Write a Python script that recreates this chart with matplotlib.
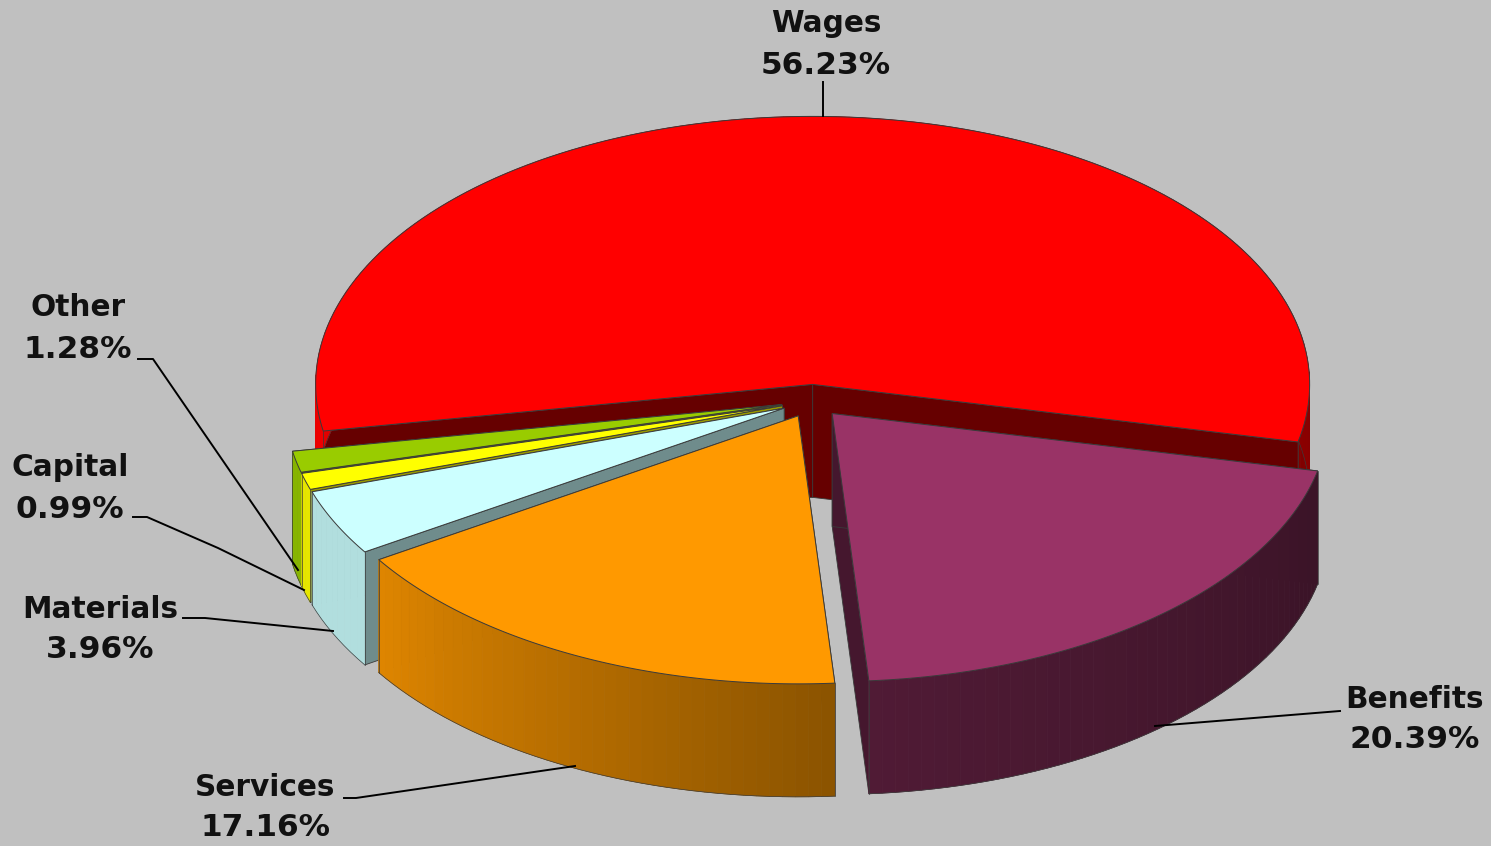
#!/usr/bin/env python3
"""Exploded 3D-look pie of spending shares, drawn by hand on a pixel-sized axes."""

import matplotlib
matplotlib.use("Agg")
import matplotlib.pyplot as plt
import numpy as np

categories = ["Wages", "Other", "Capital", "Materials", "Services", "Benefits"]
shares = [56.23, 1.28, 0.99, 3.96, 17.16, 20.39]

top_colors = ["#FF0000", "#99CC00", "#FFFF00", "#CCFFFF", "#FF9900", "#993366"]
cut_colors = ["#660000", "#5C7A00", "#999900", "#6F8C8C", "#995C00", "#45172E"]
# wall brightness at the start and end angle of each wedge
wall_shades = [(0.50, 0.94), (0.88, 0.88), (0.90, 0.90), (0.87, 0.87), (0.87, 0.54), (0.52, 0.38)]

START_DEG = -12.4
CX, CY = 812, 401
RX, RY = 497, 268
DEPTH = 113
EXPLODE = 0.062
EDGE = "#3A3A3A"

# centre of the name line, the value line sits 41 px under it
label_pos = {
    "Wages": (826, 24),
    "Other": (78, 308),
    "Capital": (70, 468),
    "Materials": (100, 609),
    "Services": (265, 787),
    "Benefits": (1415, 699),
}
leaders = {
    "Wages": [(823, 82), (823, 116)],
    "Other": [(138, 359), (153, 359), (298, 570)],
    "Capital": [(133, 517), (147, 517), (218, 548), (304, 590)],
    "Materials": [(183, 618), (205, 618), (333, 631)],
    "Services": [(344, 798), (356, 798), (575, 766)],
    "Benefits": [(1340, 711), (1155, 726)],
}


def rim(apex, deg):
    rad = np.radians(deg)
    return apex[0] + RX * np.cos(rad), apex[1] - RY * np.sin(rad)


def draw_wedge(ax, a0, a1, top, cut, shades, z):
    mid = np.radians((a0 + a1) / 2)
    apex = (CX + EXPLODE * RX * np.cos(mid), CY - EXPLODE * RY * np.sin(mid))

    # cut faces
    for deg in (a0, a1):
        x, y = rim(apex, deg)
        ax.fill([apex[0], x, x, apex[0]], [apex[1], y, y + DEPTH, apex[1] + DEPTH],
                facecolor=cut, edgecolor=EDGE, linewidth=0.6, zorder=z)

    # outer wall, in thin strips so the shade can change along it
    steps = max(int((a1 - a0) / 1.5), 2)
    degs = np.linspace(a0, a1, steps + 1)
    base = np.array(matplotlib.colors.to_rgb(top))
    for i in range(steps):
        s = np.interp(degs[i], [a0, a1], shades)
        xa, ya = rim(apex, degs[i])
        xb, yb = rim(apex, degs[i + 1])
        ax.fill([xa, xb, xb, xa], [ya, yb, yb + DEPTH, ya + DEPTH],
                facecolor=base * s, edgecolor=base * s, linewidth=0.5, zorder=z + 0.1)
    xs, ys = rim(apex, degs)
    ax.plot(xs, ys + DEPTH, color=EDGE, linewidth=0.5, zorder=z + 0.2)
    for deg in (a0, a1):
        x, y = rim(apex, deg)
        ax.plot([x, x], [y, y + DEPTH], color=EDGE, linewidth=0.5, zorder=z + 0.2)

    # top face
    arc = np.linspace(a0, a1, 200)
    xs, ys = rim(apex, arc)
    ax.fill(np.r_[apex[0], xs], np.r_[apex[1], ys],
            facecolor=top, edgecolor=EDGE, linewidth=0.7, zorder=z + 0.3)


fig = plt.figure(figsize=(14.91, 8.46), dpi=100, facecolor="#C0C0C0")
ax = fig.add_axes([0, 0, 1, 1])
ax.set_xlim(0, 1491)
ax.set_ylim(846, 0)
ax.axis("off")

angle = START_DEG
for i, (share, top, cut, shades) in enumerate(zip(shares, top_colors, cut_colors, wall_shades)):
    sweep = share * 3.6
    draw_wedge(ax, angle, angle + sweep, top, cut, shades, z=i + 1)
    angle += sweep

for name, share in zip(categories, shares):
    x, y = label_pos[name]
    ax.text(x, y, name, ha="center", va="center", fontsize=21.3,
            fontweight="bold", color="#111111", family="DejaVu Sans", zorder=20)
    ax.text(x, y + 41, f"{share:.2f}%", ha="center", va="center", fontsize=22.5,
            fontweight="bold", color="#111111", family="DejaVu Sans", zorder=20)
    pts = np.array(leaders[name])
    ax.plot(pts[:, 0], pts[:, 1], color="black", linewidth=1.4, zorder=10)

fig.savefig("out.png", dpi=100, facecolor=fig.get_facecolor())
